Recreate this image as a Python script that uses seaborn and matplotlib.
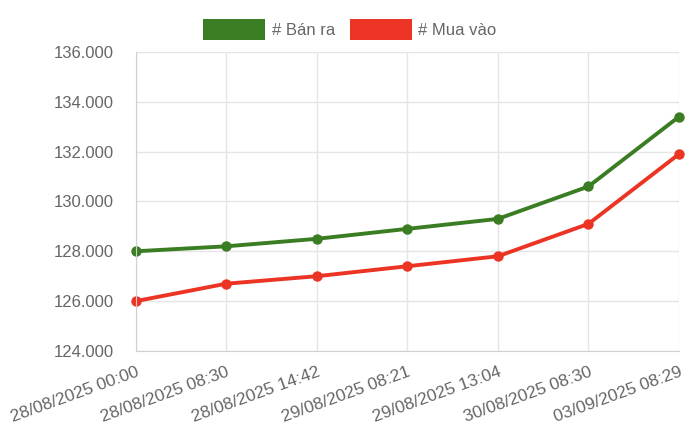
import pandas as pd
import seaborn as sns
import matplotlib.pyplot as plt
import matplotlib.ticker as mticker
from matplotlib.patches import Patch

# Datos
labels = ['28/08/2025 00:00', '28/08/2025 08:30', '28/08/2025 14:42', '29/08/2025 08:21',
          '29/08/2025 13:04', '30/08/2025 08:30', '03/09/2025 08:29']
ban_ra = [128000, 128200, 128500, 128900, 129300, 130600, 133400]
mua_vao = [126000, 126700, 127000, 127400, 127800, 129100, 131900]

series_names = ['# Bán ra', '# Mua vào']
colors = ['#3a7d22', '#ec3424']

df = pd.DataFrame({'time': labels * 2,
                   'price': ban_ra + mua_vao,
                   'serie': [series_names[0]] * len(labels) + [series_names[1]] * len(labels)})

sns.set_style('white')
plt.rcParams['font.family'] = ['Liberation Sans', 'DejaVu Sans']

fig = plt.figure(figsize=(7, 4.36), dpi=100)
ax = fig.add_axes([0.194, 0.195, 0.776, 0.686])

sns.lineplot(data=df, x='time', y='price', hue='serie', palette=colors, sort=False,
             marker='o', markersize=7.5, markeredgewidth=0, linewidth=2.8, ax=ax, legend=False)
for ln in ax.lines:
    ln.set_clip_on(False)

ax.set_ylim(124000, 136000)
ax.set_xlim(0, len(labels) - 1)
ax.yaxis.set_major_locator(mticker.MultipleLocator(2000))
ax.yaxis.set_major_formatter(mticker.FuncFormatter(lambda v, p: f'{int(v):,}'.replace(',', '.')))
ax.set_xlabel('')
ax.set_ylabel('')

ax.grid(True, color='#e5e5e5', linewidth=1)
for s in ['top', 'right']:
    ax.spines[s].set_visible(False)
for s in ['left', 'bottom']:
    ax.spines[s].set_color('#d0d0d0')
ax.tick_params(axis='both', colors='#666666', length=7, width=1, direction='out')
ax.tick_params(axis='both', color='#d9d9d9')
ax.tick_params(axis='x', labelsize=12.5, pad=3)
ax.tick_params(axis='y', labelsize=12, length=8, pad=8)
plt.setp(ax.get_xticklabels(), rotation=20, ha='right', rotation_mode='anchor')

handles = [Patch(facecolor=c, edgecolor='#ffffff00', label=n) for c, n in zip(colors, series_names)]
fig.legend(handles=handles, loc='center', bbox_to_anchor=(0.5, 0.932), ncol=2, frameon=False,
           handlelength=3.7, handleheight=1.5, handletextpad=0.4, columnspacing=0.9,
           fontsize=12, labelcolor='#666666')

fig.savefig('out.png', dpi=100)
